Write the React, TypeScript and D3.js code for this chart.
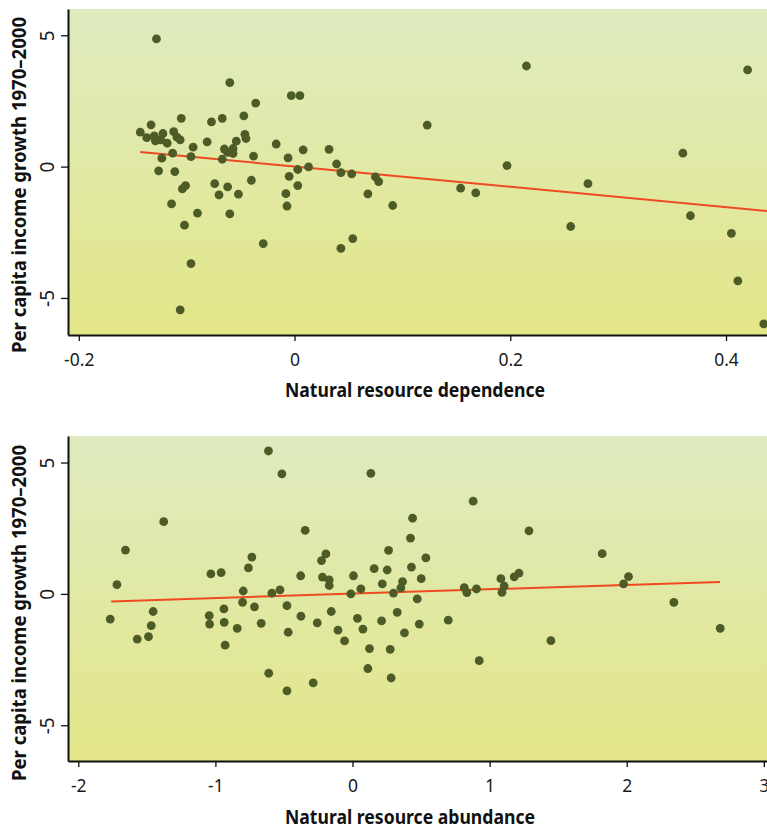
import { useEffect, useRef } from 'react';
import * as d3 from 'd3';

// tick values
const growthTicks = [-5, 0, 5];
const dependenceTicks = [-0.2, 0, 0.2, 0.4];
const abundanceTicks = [-2, -1, 0, 1, 2, 3];

// top panel: natural resource dependence vs growth
const dependence = [
  -0.128, -0.060, -0.105, -0.133, -0.077, -0.067, -0.143, -0.137, -0.130, -0.129,
  -0.122, -0.124, -0.118, -0.112, -0.109, -0.106, -0.094, -0.081, -0.065, -0.062,
  -0.057, -0.057, -0.054, -0.113, -0.096, -0.123, -0.067, -0.126, -0.111, -0.101,
  -0.104, -0.074, -0.062, -0.070, -0.114, -0.090, -0.060, -0.102, -0.096, -0.106,
  -0.003, 0.005, -0.036, -0.047, -0.046, -0.045, -0.017, -0.038, -0.006, 0.008,
  0.032, 0.039, 0.043, 0.053, 0.003, 0.013, -0.005, 0.003, -0.008, -0.007,
  -0.040, -0.052, -0.029, 0.043, 0.054, 0.068, 0.075, 0.078, 0.091, 0.123,
  0.215, 0.420, 0.360, 0.197, 0.272, 0.154, 0.168, 0.256, 0.367, 0.405,
  0.411, 0.435
];
const growthDep = [
  4.86, 3.20, 1.84, 1.59, 1.70, 1.84, 1.31, 1.10, 1.17, 0.98,
  1.26, 1.02, 0.89, 1.33, 1.12, 1.02, 0.74, 0.94, 0.67, 0.54,
  0.69, 0.50, 0.97, 0.51, 0.38, 0.32, 0.28, -0.16, -0.19, -0.72,
  -0.85, -0.65, -0.77, -1.08, -1.42, -1.77, -1.80, -2.23, -3.69, -5.45,
  2.70, 2.70, 2.42, 1.93, 1.23, 1.07, 0.86, 0.40, 0.33, 0.64,
  0.66, 0.10, -0.23, -0.28, -0.11, -0.01, -0.37, -0.72, -1.03, -1.50,
  -0.52, -1.05, -2.93, -3.11, -2.74, -1.04, -0.39, -0.57, -1.48, 1.58,
  3.83, 3.68, 0.51, 0.04, -0.65, -0.82, -1.00, -2.28, -1.87, -2.54,
  -4.35, -5.99
];
const fitDepX = [-0.143, 0.438];
const fitDepY = [0.56, -1.69];

// bottom panel: natural resource abundance vs growth
const abundance = [
  -0.613, -0.515, -1.377, -1.656, -1.718, -1.767, -1.454, -1.468, -1.570, -1.488,
  -1.033, -0.958, -0.734, -0.759, -0.797, -0.802, -0.938, -1.045, -1.042, -0.936,
  -0.841, -0.929, -0.715, -0.666, -0.588, -0.529, -0.478, -0.469, -0.611, -0.478,
  -0.378, -0.376, 0.134, 0.880, 1.287, -0.345, 0.438, 0.423, 0.263, 0.535,
  -0.194, -0.226, 0.158, 0.253, 0.430, -0.219, -0.170, -0.170, 0.007, 0.501,
  0.217, 0.365, 0.353, 0.061, -0.012, 0.299, 0.472, 0.815, 0.834, 0.904,
  1.082, 1.106, 1.090, 1.179, 1.214, -0.257, -0.155, -0.106, -0.058, 0.036,
  0.076, 0.212, 0.326, 0.487, 0.379, 0.124, 0.275, 0.112, 0.282, -0.287,
  0.698, 0.924, 1.821, 2.013, 1.977, 2.344, 2.682, 1.447
];
const growthAb = [
  5.44, 4.57, 2.75, 1.67, 0.35, -0.96, -0.67, -1.21, -1.72, -1.63,
  0.76, 0.81, 1.40, 0.99, 0.11, -0.32, -0.57, -0.83, -1.15, -1.08,
  -1.31, -1.95, -0.49, -1.12, 0.03, 0.15, -0.45, -1.46, -3.02, -3.69,
  0.69, -0.85, 4.59, 3.53, 2.40, 2.42, 2.88, 2.12, 1.66, 1.37,
  1.52, 1.27, 0.96, 0.91, 1.02, 0.64, 0.53, 0.32, 0.69, 0.58,
  0.38, 0.47, 0.23, 0.19, 0.00, 0.03, -0.19, 0.24, 0.05, 0.19,
  0.58, 0.30, 0.06, 0.65, 0.79, -1.10, -0.67, -1.38, -1.79, -0.93,
  -1.34, -1.03, -0.70, -1.15, -1.48, -2.08, -2.11, -2.84, -3.20, -3.39,
  -1.00, -2.54, 1.53, 0.66, 0.38, -0.32, -1.31, -1.78
];
const fitAbX = [-1.76, 2.68];
const fitAbY = [-0.285, 0.457];

const yTitle = 'Per capita income growth 1970\u20132000';

const drawPanel = (svg, p) => {
  const left = 68, right = 767;
  const x = d3.scaleLinear().domain(p.xDomain).range([left, right]);
  const y = d3.scaleLinear().domain(p.yDomain).range([p.top + p.height, p.top]);
  const g = svg.append('g');

  g.append('rect')
    .attr('x', left).attr('y', p.top)
    .attr('width', right - left).attr('height', p.height)
    .attr('fill', 'url(#bg)');

  // fitted line
  g.append('line')
    .attr('x1', x(p.fitX[0])).attr('y1', y(p.fitY[0]))
    .attr('x2', x(p.fitX[1])).attr('y2', y(p.fitY[1]))
    .attr('stroke', '#ef4a22').attr('stroke-width', 2);

  g.selectAll('circle.pt').data(p.xs)
    .enter().append('circle')
    .attr('class', 'pt')
    .attr('cx', d => x(d))
    .attr('cy', (d, i) => y(p.ys[i]))
    .attr('r', 4.4)
    .attr('fill', '#4d5c26');

  const yAxis = d3.axisLeft(y).tickValues(growthTicks).tickSize(7).tickSizeOuter(0)
    .tickFormat(d => String(d));
  const gY = g.append('g').attr('transform', `translate(${left},0)`).call(yAxis)
    .attr('font-family', '"Noto Sans", sans-serif').attr('font-size', 19);
  gY.select('.domain').attr('stroke', '#111').attr('stroke-width', 2);
  gY.selectAll('.tick line').attr('stroke', '#111').attr('stroke-width', 1.3);
  gY.selectAll('.tick text')
    .attr('x', 0).attr('dy', 0).attr('fill', '#1a1a1a')
    .attr('text-anchor', 'middle')
    .attr('transform', 'translate(-14,0) rotate(-90)');

  const xAxis = d3.axisBottom(x).tickValues(p.ticks).tickSize(6).tickSizeOuter(0)
    .tickFormat(d => String(d));
  const gX = g.append('g').attr('transform', `translate(0,${p.top + p.height})`).call(xAxis)
    .attr('font-family', '"Noto Sans", sans-serif').attr('font-size', 17.5);
  gX.select('.domain').attr('stroke', '#111').attr('stroke-width', 2);
  gX.selectAll('.tick line').attr('stroke', '#111').attr('stroke-width', 1.3);
  gX.selectAll('.tick text').attr('y', 30.5).attr('dy', 0).attr('fill', '#1a1a1a');

  // axis titles
  g.append('text').text(p.title)
    .attr('x', p.titleX).attr('y', p.top + p.height + p.titleDy)
    .attr('text-anchor', 'middle')
    .attr('font-family', '"Noto Sans", sans-serif').attr('font-weight', 'bold')
    .attr('font-size', 19).attr('fill', '#111')
    .attr('textLength', p.titleLen).attr('lengthAdjust', 'spacingAndGlyphs');

  g.append('text').text(yTitle)
    .attr('transform', `translate(26,${p.yTitleY}) rotate(-90)`)
    .attr('text-anchor', 'middle')
    .attr('font-family', '"Noto Sans", sans-serif').attr('font-weight', 'bold')
    .attr('font-size', 19).attr('fill', '#111')
    .attr('textLength', 336).attr('lengthAdjust', 'spacingAndGlyphs');
};

const App = () => {
  const ref = useRef(null);
  useEffect(() => {
    const svg = d3.select(ref.current);
    svg.selectAll('*').remove();

    const grad = svg.append('defs').append('linearGradient')
      .attr('id', 'bg').attr('x1', 0).attr('y1', 0).attr('x2', 0).attr('y2', 1);
    grad.append('stop').attr('offset', '0%').attr('stop-color', '#dfebc0');
    grad.append('stop').attr('offset', '100%').attr('stop-color', '#e3e688');

    drawPanel(svg, {
      top: 9, height: 326,
      xDomain: [-0.21, 0.438], yDomain: [-6.41, 6.0],
      xs: dependence, ys: growthDep,
      fitX: fitDepX, fitY: fitDepY,
      ticks: dependenceTicks,
      title: 'Natural resource dependence', titleX: 415, titleDy: 61.5, titleLen: 260,
      yTitleY: 185
    });
    drawPanel(svg, {
      top: 436, height: 325,
      xDomain: [-2.075, 3.023], yDomain: [-6.36, 6.01],
      xs: abundance, ys: growthAb,
      fitX: fitAbX, fitY: fitAbY,
      ticks: abundanceTicks,
      title: 'Natural resource abundance', titleX: 410, titleDy: 62.5, titleLen: 250,
      yTitleY: 613
    });
  }, []);

  return (
    <svg ref={ref} width={767} height={828}
      style={{ position: 'absolute', left: 0, top: 0, background: '#fff' }} />
  );
};

export default App;
